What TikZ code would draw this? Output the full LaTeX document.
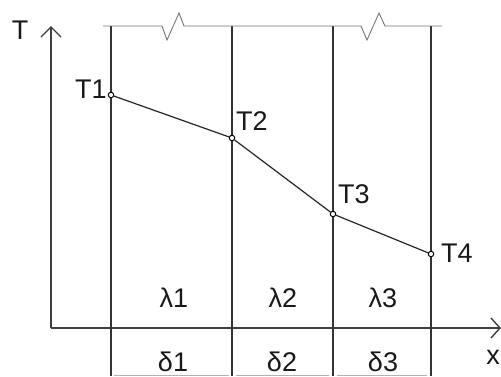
\documentclass[tikz,border=0pt]{standalone}
\usepackage{fontspec}
\setmainfont{Liberation Sans}
\usetikzlibrary{calc}
\begin{document}
\begin{tikzpicture}[x=1pt,y=-1pt,
  wall/.style={draw=black!80,line width=1.5pt},
  topline/.style={draw=black!55,line width=0.9pt},
  axis/.style={draw=black!75,line width=1.4pt},
  tline/.style={draw=black!85,line width=1.2pt},
  pt/.style={circle,draw=black,fill=white,line width=1pt,inner sep=0pt,minimum size=5.5pt},
  lbl/.style={font=\fontsize{27}{29}\selectfont,text=black!90,inner sep=0pt},
  dim/.style={draw=black!30,line width=0.8pt}]
\useasboundingbox[fill=white] (0,0) rectangle (501,376);
% axes
\coordinate (O) at (51,328);
\coordinate (Ttip) at (51,27);
\coordinate (Xtip) at (500,328);
\draw[axis] (O) -- (Ttip);
\draw[axis] (O) -- (Xtip);
\draw[axis] ($(Ttip)+(-10,10)$) -- (Ttip) -- ($(Ttip)+(10,10)$);
\draw[axis] ($(Xtip)+(-9,-10)$) -- (Xtip) -- ($(Xtip)+(-9,10)$);
% walls
\foreach \n/\xx in {a/111,b/232,c/333,d/431}{
  \coordinate (\n top) at (\xx,26);
  \coordinate (\n bot) at (\xx,376);
  \draw[wall] (\n top) -- (\n bot);
}
% top line with break marks
\draw[topline] (103,26) -- (162,26) -- (167,40) -- (179,13) -- (184,26) -- (361,26) -- (367,40) -- (379,13) -- (385,26) -- (442,26);
% bottom dimension line
\draw[dim] (114,375) -- (229,375);
\draw[dim] (236,375) -- (329,375);
\draw[dim] (337,375) -- (427,375);
% temperature points
\node[pt] (T1) at (111,95) {};
\node[pt] (T2) at (232,138) {};
\node[pt] (T3) at (333,214) {};
\node[pt] (T4) at (431,254) {};
\draw[tline] (T1) -- (T2) -- (T3) -- (T4);
% labels
\node[lbl] (lT) at (20,30) {T};
\node[lbl] (lT1) at (91,89) {T1};
\node[lbl] (lT2) at (252,121) {T2};
\node[lbl] (lT3) at (354,194) {T3};
\node[lbl] (lT4) at (457,253) {T4};
\node[lbl] (l1) at (174,298) {λ1};
\node[lbl] (l2) at (283,298) {λ2};
\node[lbl] (l3) at (383,298) {λ3};
\node[lbl] (d1) at (173,362) {δ1};
\node[lbl] (d2) at (282,362) {δ2};
\node[lbl] (d3) at (383,362) {δ3};
\node[lbl] (lx) at (493,357) {x};
\end{tikzpicture}
\end{document}
